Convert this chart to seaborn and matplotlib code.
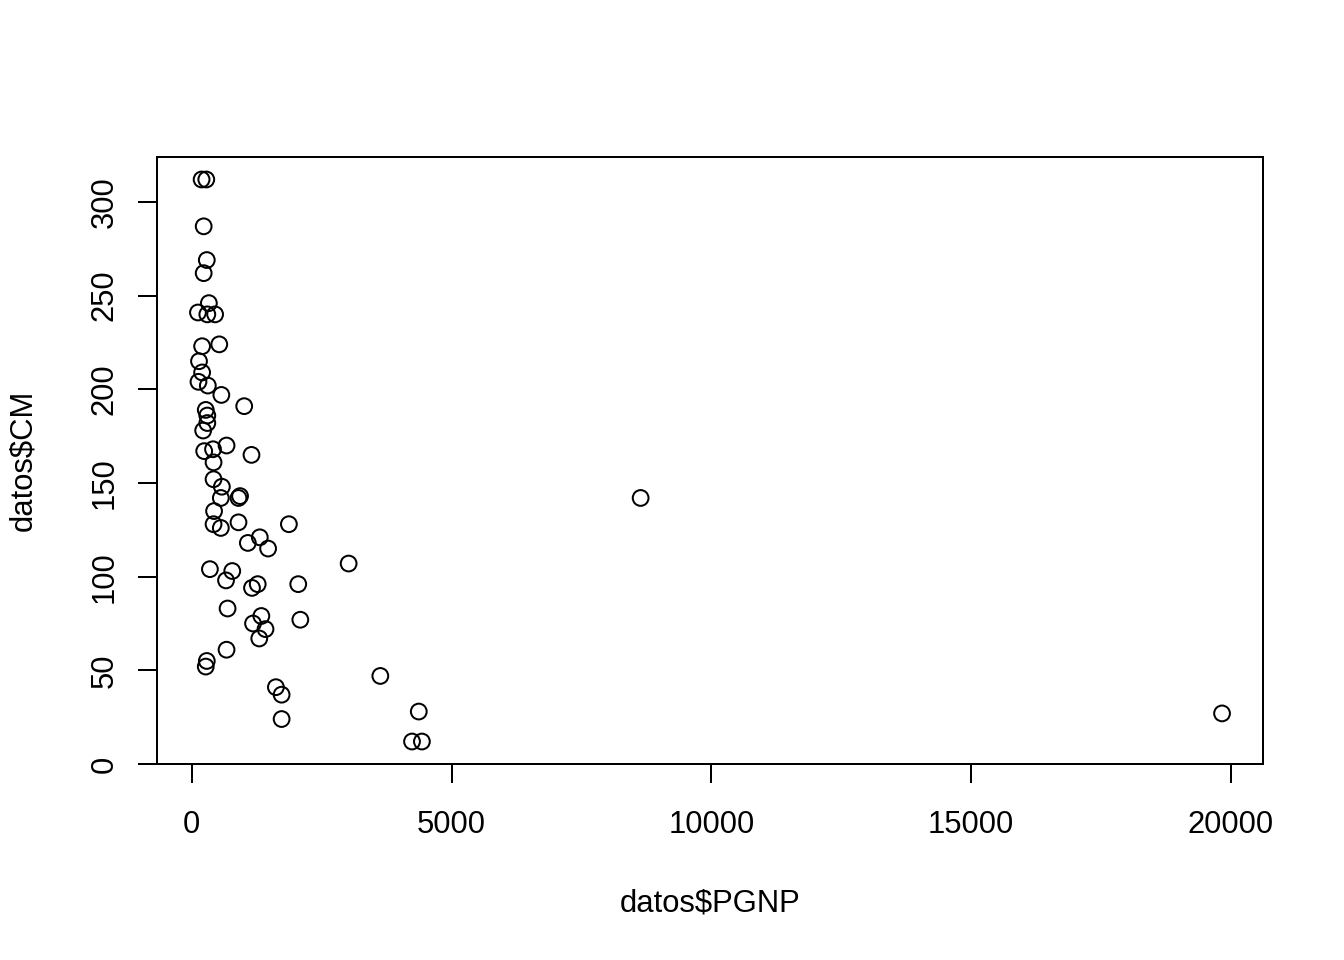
import pandas as pd
import matplotlib
matplotlib.use("Agg")
import matplotlib.pyplot as plt
import seaborn as sns

# datos: mortalidad infantil (CM) y PGNP por pais
cm = [128, 204, 202, 197, 96, 209, 170, 240, 241, 55, 75, 129, 24, 165, 94, 96,
      148, 98, 161, 118, 269, 189, 126, 12, 167, 135, 107, 72, 128, 27, 152, 224,
      142, 104, 287, 41, 312, 77, 142, 262, 215, 246, 191, 182, 37, 103, 67, 143,
      83, 223, 240, 312, 12, 52, 79, 61, 168, 28, 121, 115, 186, 47, 178, 142]
pgnp = [1870, 130, 310, 570, 2050, 200, 670, 300, 120, 290, 1180, 900, 1730, 1150,
        1160, 1270, 580, 660, 420, 1080, 290, 270, 560, 4240, 240, 430, 3020, 1420,
        420, 19830, 420, 530, 8640, 350, 230, 1620, 190, 2090, 900, 230, 140, 330,
        1010, 300, 1730, 780, 1300, 930, 690, 200, 450, 280, 4430, 270, 1340, 670,
        410, 4370, 1310, 1470, 300, 3630, 220, 560]
x_ticks = [0, 5000, 10000, 15000, 20000]
y_ticks = [0, 50, 100, 150, 200, 250, 300]

datos = pd.DataFrame({"PGNP": pgnp, "CM": cm})

sns.set_style("white")
plt.rcParams["font.family"] = ["Liberation Sans", "DejaVu Sans"]

fig = plt.figure(figsize=(1344 / 144, 960 / 144), dpi=144)
ax = fig.add_axes([157 / 1344, 1 - 764 / 960, (1263 - 157) / 1344, (764 - 157) / 960])

sns.scatterplot(data=datos, x="PGNP", y="CM", ax=ax, marker="o", s=62,
                facecolor="none", edgecolor="black", linewidth=1.0)

# rangos estilo R (4% extra)
xr = max(pgnp) - min(pgnp)
yr = max(cm) - min(cm)
ax.set_xlim(min(pgnp) - 0.04 * xr, max(pgnp) + 0.04 * xr)
ax.set_ylim(min(cm) - 0.04 * yr, max(cm) + 0.04 * yr)

ax.set_xticks(x_ticks)
ax.set_yticks(y_ticks)
ax.set_xticklabels([str(t) for t in x_ticks])
ax.set_yticklabels([str(t) for t in y_ticks], rotation=90, va="center")
ax.tick_params(axis="both", direction="out", length=9.5, width=1.0,
               labelsize=15.5, color="black", labelcolor="black", pad=9)
ax.tick_params(axis="x", pad=13.5)
ax.tick_params(axis="both", bottom=True, left=True)

for sp in ax.spines.values():
    sp.set_visible(True)
    sp.set_color("black")
    sp.set_linewidth(1.0)
ax.grid(False)

ax.set_xlabel(r"datos\$PGNP", fontsize=15.5, labelpad=24, color="black")
ax.set_ylabel(r"datos\$CM", fontsize=15.5, labelpad=26, color="black")

fig.savefig("out.png", dpi=144, facecolor="white")
